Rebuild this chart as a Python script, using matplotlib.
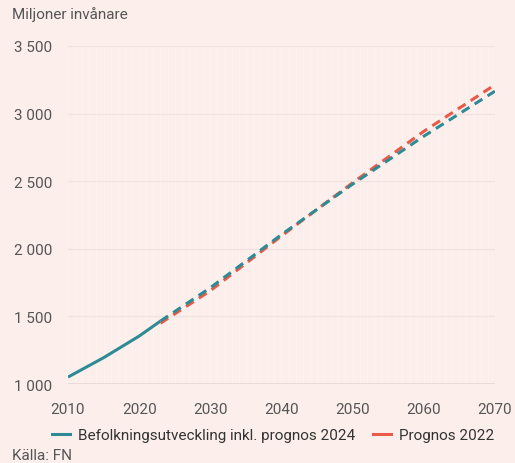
import matplotlib.pyplot as plt

# Befolkningsutveckling inkl. prognos 2024 (miljoner)
hist_years = [2010, 2015, 2020, 2023]
hist_values = [1052, 1195, 1355, 1466]

prog24_years = [2023, 2030, 2040, 2050, 2060, 2070]
prog24_values = [1466, 1712, 2105, 2478, 2832, 3165]

prog22_years = [2023, 2030, 2040, 2050, 2060, 2070]
prog22_values = [1450, 1690, 2095, 2488, 2868, 3212]

y_ticks = [1000, 1500, 2000, 2500, 3000, 3500]
x_ticks = [2010, 2020, 2030, 2040, 2050, 2060, 2070]

bg = "#fcefeb"
teal = "#2e8b96"
red = "#ea5a48"
text_col = "#555555"

plt.rcParams["font.family"] = ["Roboto", "DejaVu Sans"]

fig = plt.figure(figsize=(5.15, 4.64), dpi=100, facecolor=bg)
ax = fig.add_axes([0.132, 0.170, 0.829, 0.729])
ax.set_facecolor(bg)

# faint vertical stripes
for yr in range(2010, 2071):
    ax.axvline(yr, color="white", lw=0.8, alpha=0.3, zorder=0)

for v in y_ticks:
    ax.axhline(v, color="#f1e3df", lw=1.0, zorder=1)
ax.axhline(1000, color="#e6d8d4", lw=1.2, zorder=1)

ax.plot(hist_years, hist_values, color=teal, lw=2.2, solid_capstyle="butt", zorder=3)
ax.plot(prog22_years, prog22_values, color=red, lw=2.2, dashes=(3, 2), zorder=3)
ax.plot(prog24_years, prog24_values, color=teal, lw=2.2, dashes=(3, 2), zorder=4)

ax.set_xlim(2010, 2070)
ax.set_ylim(1000, 3500)
ax.set_xticks(x_ticks)
ax.set_yticks(y_ticks)
ax.set_yticklabels([f"{v:,}".replace(",", " ") for v in y_ticks])
ax.tick_params(axis="both", length=0, labelsize=11, colors=text_col)
ax.tick_params(axis="y", pad=11.5)
ax.tick_params(axis="x", pad=13)
for s in ax.spines.values():
    s.set_visible(False)

fig.text(12 / 515, 1 - 15 / 464, "Miljoner invånare", fontsize=11, color=text_col, va="center")
fig.text(12 / 515, 1 - 456 / 464, "Källa: FN", fontsize=11, color=text_col, va="center")

h1, = ax.plot([], [], color=teal, lw=2.2)
h2, = ax.plot([], [], color=red, lw=2.2)
fig.legend([h1, h2], ["Befolkningsutveckling inkl. prognos 2024", "Prognos 2022"],
           loc="center", bbox_to_anchor=(0.53, 1 - 436 / 464), ncol=2, frameon=False,
           fontsize=11, labelcolor="#333333", handlelength=1.2, handletextpad=0.5,
           columnspacing=1.2)

fig.savefig("out.png", dpi=100, facecolor=bg)
